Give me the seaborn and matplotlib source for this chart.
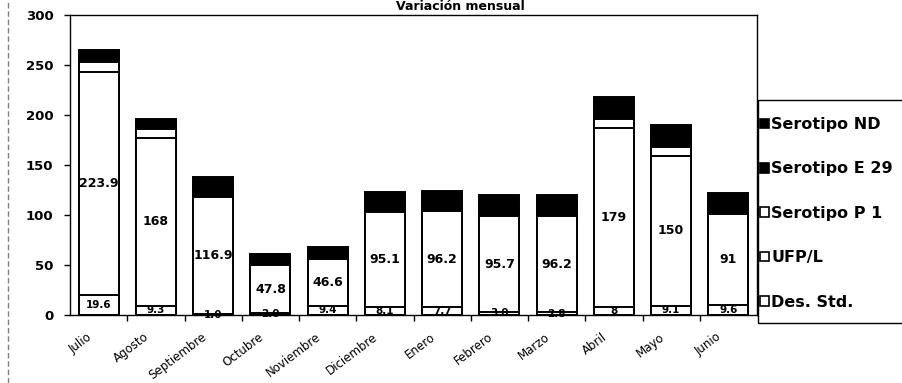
import matplotlib
matplotlib.use("Agg")
import matplotlib.pyplot as plt
from matplotlib.lines import Line2D
from matplotlib.patches import Patch, Rectangle
import numpy as np
import pandas as pd
import seaborn as sns

# Monthly values per component
meses = ["Julio", "Agosto", "Septiembre", "Octubre", "Noviembre", "Diciembre",
         "Enero", "Febrero", "Marzo", "Abril", "Mayo", "Junio"]
des_std = [19.6, 9.3, 1.0, 2.0, 9.4, 8.1, 7.7, 3.0, 2.8, 8.0, 9.1, 9.6]
ufp_l = [223.9, 168, 116.9, 47.8, 46.6, 95.1, 96.2, 95.7, 96.2, 179, 150, 91]
serotipo_p1 = [10, 9, 0, 0, 0, 0, 0, 0, 0, 9, 9, 0]
serotipo_e29 = [7, 6, 12, 7, 7, 12, 12, 12, 13, 13, 13, 12]
serotipo_nd = [5, 4, 8, 4, 5, 8, 8, 9, 8, 9, 9, 9]

des_std_labels = ["19.6", "9.3", "1.0", "2.0", "9.4", "8.1", "7.7", "3.0", "2.8", "8", "9.1", "9.6"]
ufp_labels = ["223.9", "168", "116.9", "47.8", "46.6", "95.1", "96.2", "95.7", "96.2", "179", "150", "91"]

series = [
    ("Des. Std.", des_std, "white"),
    ("UFP/L", ufp_l, "white"),
    ("Serotipo P 1", serotipo_p1, "white"),
    ("Serotipo E 29", serotipo_e29, "black"),
    ("Serotipo ND", serotipo_nd, "black"),
]

df = pd.DataFrame({"mes": meses})
running = np.zeros(len(meses))
for name, vals, _ in series:
    running = running + np.array(vals, dtype=float)
    df[name] = running

sns.set_style("white")
plt.rcParams["font.family"] = ["DejaVu Sans"]
plt.rcParams["text.color"] = "black"
plt.rcParams["xtick.color"] = "black"
plt.rcParams["ytick.color"] = "black"

W, H = 902, 383
fig = plt.figure(figsize=(W / 100, H / 100), dpi=100)
ax = fig.add_axes([70 / W, 1 - 315 / H, (757 - 70) / W, 300 / H])

# stacked bars: draw cumulative totals from the top layer down
for name, _, color in reversed(series):
    sns.barplot(data=df, x="mes", y=name, color=color, edgecolor="black",
                linewidth=1.4, width=0.7, saturation=1, ax=ax, zorder=2)

# value labels on UFP/L and Des. Std. segments
for i in range(len(meses)):
    ax.text(i, des_std[i] / 2, des_std_labels[i], ha="center", va="center",
            fontsize=7.5, fontweight="bold", color="black", zorder=5)
    ax.text(i, des_std[i] + ufp_l[i] / 2, ufp_labels[i], ha="center", va="center",
            fontsize=9, fontweight="bold", color="black", zorder=5)

ax.set_ylim(0, 300)
ax.set_xlim(-0.5, len(meses) - 0.5)
ax.set_yticks(range(0, 301, 50))
ax.set_xlabel("")
ax.set_ylabel("")
for lbl in ax.get_yticklabels():
    lbl.set_fontweight("bold")
    lbl.set_fontsize(9.5)
    lbl.set_color("black")

# month names, slanted, ending just left of each bar centre
ax.set_xticks(range(len(meses)))
ax.set_xticklabels([])
for i, mes in enumerate(meses):
    ax.annotate(mes, xy=(i, 0), xycoords=("data", "axes fraction"),
                xytext=(-6.0, -15.0), textcoords="offset points",
                rotation=37, ha="right", va="center", rotation_mode="anchor",
                fontsize=8.5, color="black", annotation_clip=False)

ax.tick_params(axis="y", which="major", left=True, length=4, width=1, color="black", pad=8)
ax.tick_params(axis="x", which="major", bottom=False)
ax.set_xticks(np.arange(0.5, len(meses) - 0.5, 1), minor=True)
ax.tick_params(axis="x", which="minor", bottom=True, length=4, width=1, color="black")
for sp in ax.spines.values():
    sp.set_visible(True)
    sp.set_color("black")
    sp.set_linewidth(1.0)

fig.text(460 / W, 1 - 7 / H, "Variación mensual", ha="center", va="center",
         fontsize=9, fontweight="bold", color="black")

# legend on the right, inside its own box running off the right edge
fig.add_artist(Rectangle((758 / W, 1 - 323 / H), 160 / W, 223 / H,
                         transform=fig.transFigure, facecolor="white",
                         edgecolor="black", linewidth=1.0, zorder=1))
handles = [Patch(facecolor=c, edgecolor="black", linewidth=1.2, label=n)
           for n, _, c in reversed(series)]
leg = fig.legend(handles=handles, loc="upper left",
                 bbox_to_anchor=(760 / W, 1 - 117 / H), frameon=False,
                 fontsize=11.5, labelspacing=1.84, handlelength=0.55, handleheight=0.55,
                 handletextpad=0.15, borderpad=0, borderaxespad=0)
leg.set_zorder(3)
for t in leg.get_texts():
    t.set_fontweight("bold")
    t.set_color("black")

# dashed left border of the chart area
fig.add_artist(Line2D([8 / W, 8 / W], [0, 1], transform=fig.transFigure,
                      color="gray", lw=1, ls=(0, (4, 2))))

fig.savefig("out.png", dpi=100)
